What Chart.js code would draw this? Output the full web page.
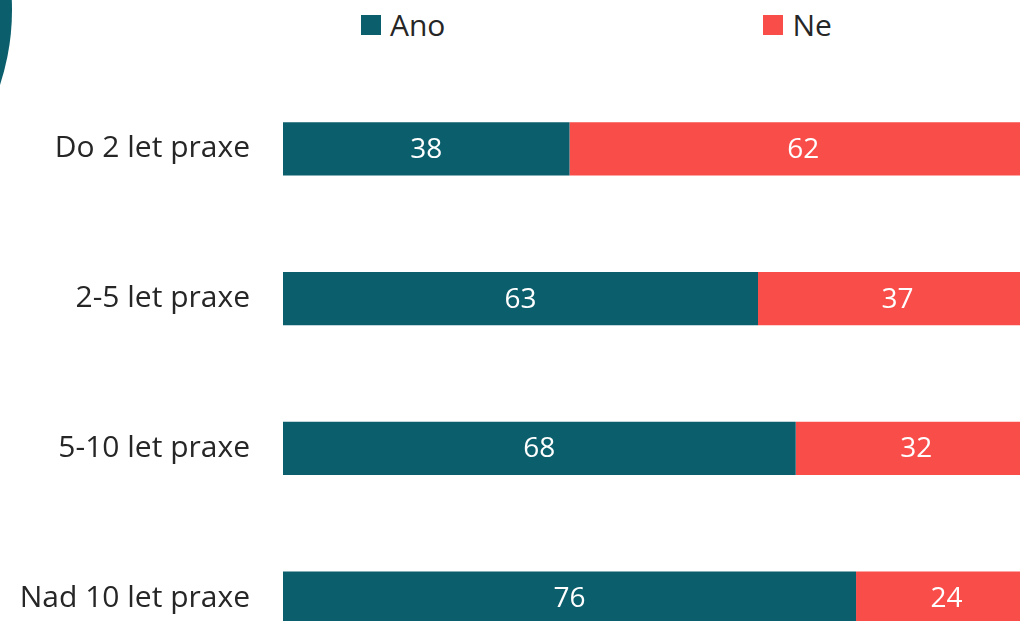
<!DOCTYPE html>
<html>
<head>
<meta charset="utf-8">
<script src="https://cdn.jsdelivr.net/npm/chart.js@4"></script>
<style>
  html, body { margin: 0; padding: 0; background: #fff; overflow: hidden; }
  body { width: 1020px; height: 621px; position: relative; font-family: "Open Sans", sans-serif; }
  #wrap { position: absolute; left: 0; top: 0; width: 1040px; height: 716px; }
  #deco { position: absolute; left: -468px; top: -230px; width: 480px; height: 480px; border-radius: 50%; background: #0B5E6C; }
  #legend { position: absolute; top: 4px; left: 361px; display: flex; font-size: 30px; color: #262626; }
  #legend .item { display: flex; align-items: center; }
  #legend .box { width: 20px; height: 20px; margin-right: 9px; }
</style>
</head>
<body>
<div id="deco"></div>
<div id="legend"></div>
<div id="wrap"><canvas id="myChart" width="1040" height="716"></canvas></div>
<script>
// categories and values (percent)
var labels = ['Do 2 let praxe', '2-5 let praxe', '5-10 let praxe', 'Nad 10 let praxe'];
var ano = [38, 63, 68, 76];
var ne = [62, 37, 32, 24];
var seriesNames = ['Ano', 'Ne'];
var colors = ['#0B5E6C', '#F94D4A'];

// white numbers in the middle of each bar
var barLabels = {
  id: 'barLabels',
  afterDatasetsDraw: function(chart) {
    var ctx = chart.ctx;
    ctx.save();
    ctx.fillStyle = '#ffffff';
    ctx.font = '28px "Open Sans"';
    ctx.textAlign = 'center';
    ctx.textBaseline = 'middle';
    chart.data.datasets.forEach(function(ds, i) {
      chart.getDatasetMeta(i).data.forEach(function(bar, j) {
        var p = bar.getProps(['x', 'y', 'base'], true);
        ctx.fillText(ds.data[j], (p.x + p.base) / 2, p.y + 1);
      });
    });
    ctx.restore();
  }
};

new Chart(document.getElementById('myChart'), {
  type: 'bar',
  data: {
    labels: labels,
    datasets: [
      { label: seriesNames[0], data: ano, backgroundColor: colors[0] },
      { label: seriesNames[1], data: ne, backgroundColor: colors[1] }
    ]
  },
  options: {
    indexAxis: 'y',
    responsive: false,
    animation: false,
    devicePixelRatio: 1,
    layout: { padding: { top: 74, bottom: 8, left: 0, right: 3 } },
    categoryPercentage: 1,
    barPercentage: 0.356,
    scales: {
      x: { stacked: true, min: 0, max: 100, display: false },
      y: {
        stacked: true,
        grid: { display: false },
        border: { display: false },
        ticks: { color: '#262626', font: { family: 'Open Sans', size: 30 }, padding: 25 },
        afterFit: function(scale) { scale.width = 283; }
      }
    },
    plugins: { legend: { display: false }, tooltip: { enabled: false } }
  },
  plugins: [barLabels]
});

// legend built from the series
var lg = document.getElementById('legend');
seriesNames.forEach(function(n, i) {
  var it = document.createElement('div');
  it.className = 'item';
  it.style.marginRight = i === 0 ? '318px' : '0';
  it.innerHTML = '<span class="box" style="background:' + colors[i] + '"></span>' + n;
  lg.appendChild(it);
});
</script>
</body>
</html>
